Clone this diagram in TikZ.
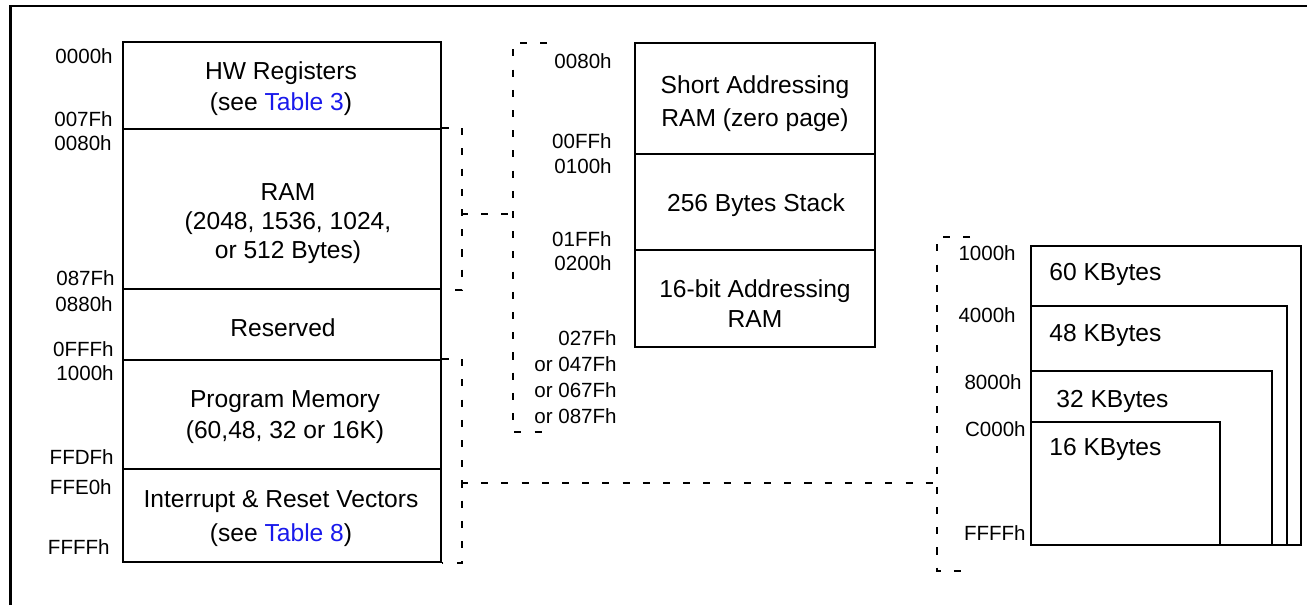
\documentclass[tikz,border=0pt]{standalone}
\usepackage{fontspec}
\setmainfont{Liberation Sans}
\usepackage{tikz}
\usetikzlibrary{positioning, fit, calc}
\definecolor{linkblue}{RGB}{25,25,235}

\begin{document}
\begin{tikzpicture}[
  x=0.02cm, y=-0.02cm,
  membox/.style={draw, line width=1.1pt, inner sep=0pt},
  memtext/.style={inner sep=0pt, align=center, font=\fontsize{14pt}{17pt}\selectfont},
  kbtext/.style={inner sep=0pt, anchor=west, font=\fontsize{14pt}{17pt}\selectfont},
  addr/.style={inner sep=0pt, anchor=east, align=right, font=\fontsize{11.7pt}{14.8pt}\selectfont},
  bracket/.style={line width=1.1pt, dash pattern=on 4pt off 7.5pt},
  frameline/.style={line width=1.7pt, line join=miter}
]
\useasboundingbox (0,0) rectangle (1307,605);

% Frame
\draw[frameline] (10.5,605) -- (10.5,6) -- (1307,6);

% Full memory map
\node[membox, fit={(123,42) (441,129)}]  (hwreg) {};
\node[membox, fit={(123,129) (441,289)}] (ram)   {};
\node[membox, fit={(123,289) (441,360)}] (resv)  {};
\node[membox, fit={(123,360) (441,469)}] (prog)  {};
\node[membox, fit={(123,469) (441,562)}] (vect)  {};

\node[memtext, font=\fontsize{14pt}{17.6pt}\selectfont] (hwtxt) at (281,88.5) {HW Registers\\(see \textcolor{linkblue}{Table 3})};
\node[memtext, font=\fontsize{14pt}{16.5pt}\selectfont] (ramtxt) at (288,224) {RAM\\(2048, 1536, 1024,\\or 512 Bytes)};
\node[memtext] (resvtxt) at (283,327.5) {Reserved};
\node[memtext, font=\fontsize{14pt}{17.6pt}\selectfont] (progtxt) at (285,417.5) {Program Memory\\(60,48, 32 or 16K)};
\node[memtext, font=\fontsize{14pt}{19.3pt}\selectfont] (vecttxt) at (281,518.5) {Interrupt \& Reset Vectors\\(see \textcolor{linkblue}{Table 8})};

\node[addr] (a0000) at (113,56)  {0000h};
\node[addr] (a007F) at (113,119) {007Fh};
\node[addr] (a0080) at (112,143) {0080h};
\node[addr] (a087F) at (115,278) {087Fh};
\node[addr] (a0880) at (113,304) {0880h};
\node[addr] (a0FFF) at (114,349) {0FFFh};
\node[addr] (a1000) at (114,373) {1000h};
\node[addr] (aFFDF) at (114,457) {FFDFh};
\node[addr] (aFFE0) at (112,487) {FFE0h};
\node[addr] (aFFFF) at (110,547) {FFFFh};

% RAM detail
\node[membox, fit={(635,43) (875,154)}]  (zpage) {};
\node[membox, fit={(635,154) (875,250)}] (stack) {};
\node[membox, fit={(635,250) (875,347)}] (ram16) {};

\node[memtext, font=\fontsize{14pt}{18.8pt}\selectfont] (zptxt) at (755,103.5) {Short Addressing\\RAM (zero page)};
\node[memtext] (stacktxt) at (756,205) {256 Bytes Stack};
\node[memtext] (ram16txt) at (755,303.5) {16-bit Addressing\\RAM};

\node[addr] (b0080) at (612,61)  {0080h};
\node[addr] (b00FF) at (612,141) {00FFh};
\node[addr] (b0100) at (612,166) {0100h};
\node[addr] (b01FF) at (612,239) {01FFh};
\node[addr] (b0200) at (612,263) {0200h};
\node[addr] (bend)  at (617,377) {027Fh\\or 047Fh\\or 067Fh\\or 087Fh};

% Program memory detail
\node[membox, fit={(1031,246) (1301,545)}] (kb60box) {};
\node[membox, fit={(1031,306) (1287,545)}] (kb48box) {};
\node[membox, fit={(1031,371) (1272,545)}] (kb32box) {};
\node[membox, fit={(1031,422) (1220,545)}] (kb16box) {};
\node[kbtext] (kb60) at (1049,274) {60 KBytes};
\node[kbtext] (kb48) at (1049,335) {48 KBytes};
\node[kbtext] (kb32) at (1056,401) {32 KBytes};
\node[kbtext] (kb16) at (1049,449) {16 KBytes};

\node[addr] (c1000) at (1016,253) {1000h};
\node[addr] (c4000) at (1016,315) {4000h};
\node[addr] (c8000) at (1022,382) {8000h};
\node[addr] (cC000) at (1026,429) {C000h};
\node[addr] (cFFFF) at (1026,533) {FFFFh};

% Dashed brackets and links
\coordinate (ramlink)  at (461,214);
\coordinate (maplink)  at (513,214);
\coordinate (maptop)   at (547,43);
\coordinate (mapbot)   at (547,432);
\coordinate (proglink) at (461,483);
\coordinate (kblink)   at (937,483);
\coordinate (kbtop)    at (970,237);
\coordinate (kbbot)    at (970,571);

\draw[bracket] (ram.north east) -- ++(20,0) |- (ram.south east);
\draw[bracket] (ramlink) -- (maplink);
\draw[bracket] (maptop) -| (maplink) |- (mapbot);

\draw[bracket] (prog.north east) -- ++(20,0) |- (vect.south east);
\draw[bracket] (proglink) -- (kblink);
\draw[bracket] (kbtop) -| (kblink) |- (kbbot);
\end{tikzpicture}
\end{document}
